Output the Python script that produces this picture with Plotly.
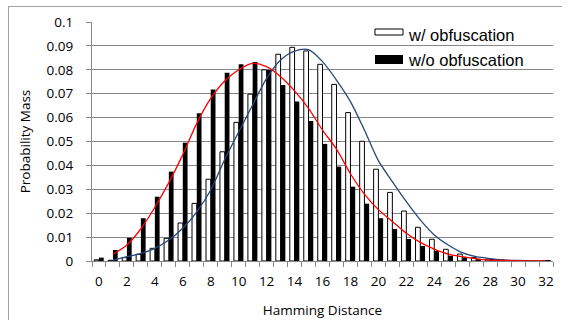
import plotly.graph_objects as go

# ---------------- data ----------------
hamming = list(range(33))
with_obf = [0.0005, 0.0003, 0.0014, 0.0028, 0.0053, 0.0095, 0.0159, 0.0241, 0.0342, 0.0457,
            0.0580, 0.0698, 0.0800, 0.0865, 0.0894, 0.0879, 0.0823, 0.0739, 0.0621, 0.0501,
            0.0384, 0.0287, 0.0209, 0.0141, 0.0091, 0.0049, 0.0029, 0.0015, 0.0008, 0.0004,
            0.0002, 0.0001, 0.0001]
without_obf = [0.0014, 0.0046, 0.0097, 0.0179, 0.0269, 0.0374, 0.0495, 0.0618, 0.0718, 0.0788,
               0.0823, 0.0833, 0.0799, 0.0736, 0.0667, 0.0586, 0.0490, 0.0395, 0.0311, 0.0240,
               0.0179, 0.0134, 0.0092, 0.0063, 0.0042, 0.0022, 0.0015, 0.0009, 0.0006, 0.0004,
               0.0004, 0.0004, 0.0004]
fit_x = list(range(1, 33))
fit_without = [0.0028, 0.0067, 0.0135, 0.0225, 0.0328, 0.0445, 0.0576, 0.0680, 0.0753, 0.0800,
               0.0827, 0.0813, 0.0771, 0.0712, 0.0639, 0.0548, 0.0468, 0.0365, 0.0280, 0.0215,
               0.0165, 0.0116, 0.0078, 0.0050, 0.0029, 0.0018, 0.0009, 0.0004, 0.0002, 0.0001,
               0.00005, 0.00002]
fit_with = [0.0004, 0.0018, 0.0032, 0.0053, 0.0088, 0.0137, 0.0206, 0.0297, 0.0425, 0.0540,
            0.0653, 0.0764, 0.0841, 0.0878, 0.0884, 0.0834, 0.0757, 0.0667, 0.0548, 0.0420,
            0.0332, 0.0248, 0.0172, 0.0109, 0.0067, 0.0035, 0.0018, 0.0010, 0.0005, 0.0002,
            0.0001, 0.00005]
y_ticks = [0, 0.01, 0.02, 0.03, 0.04, 0.05, 0.06, 0.07, 0.08, 0.09, 0.1]
y_tick_labels = ["0", "0.01", "0.02", "0.03", "0.04", "0.05", "0.06", "0.07", "0.08", "0.09", "0.1"]
x_ticks = list(range(0, 33, 2))
legend_labels = ["w/ obfuscation", "w/o obfuscation"]

# ---------------- layout geometry ----------------
W, H = 574, 320
ML, MR, MT, MB = 92, 21, 22, 59
PW, PH = W - ML - MR, H - MT - MB


def px(xp):
    return (xp - ML) / PW


def py(yp):
    return (H - MB - yp) / PH


GRID = "#878787"
BORDER = "#A0A0A0"
TICKFONT = dict(family="Open Sans", size=13.5, color="#000000")

fig = go.Figure()
fig.add_trace(go.Bar(x=hamming, y=with_obf, name=legend_labels[0],
                     marker=dict(color="#FFFFFF", line=dict(color="#000000", width=1)),
                     showlegend=False))
fig.add_trace(go.Bar(x=hamming, y=without_obf, name=legend_labels[1],
                     marker=dict(color="#000000", line=dict(color="#000000", width=0)),
                     showlegend=False))
fig.add_trace(go.Scatter(x=fit_x, y=fit_with, mode="lines",
                         line=dict(color="#26477A", width=1.3, shape="spline", smoothing=0.8),
                         showlegend=False, hoverinfo="skip"))
fig.add_trace(go.Scatter(x=fit_x, y=fit_without, mode="lines",
                         line=dict(color="#FF0000", width=1.3, shape="spline", smoothing=0.8),
                         showlegend=False, hoverinfo="skip"))

shapes = [
    # chart-area border: top and left edges
    dict(type="line", xref="paper", yref="paper", x0=px(8), x1=px(562), y0=py(6.5), y1=py(6.5),
         line=dict(color=BORDER, width=1)),
    dict(type="line", xref="paper", yref="paper", x0=px(8.5), x1=px(8.5), y0=py(6), y1=py(H + 10),
         line=dict(color=BORDER, width=1)),
    # legend keys
    dict(type="rect", xref="paper", yref="paper", x0=px(375), x1=px(403), y0=py(35), y1=py(29),
         fillcolor="#FFFFFF", line=dict(color="#000000", width=1)),
    dict(type="rect", xref="paper", yref="paper", x0=px(375), x1=px(403), y0=py(64), y1=py(55),
         fillcolor="#000000", line=dict(color="#000000", width=0)),
]
annotations = [
    dict(xref="paper", yref="paper", x=px(406), y=py(34.5), text=legend_labels[0], showarrow=False,
         xanchor="left", yanchor="middle", font=dict(family="Liberation Sans", size=16.5, color="#000")),
    dict(xref="paper", yref="paper", x=px(406), y=py(60.5), text=legend_labels[1], showarrow=False,
         xanchor="left", yanchor="middle", font=dict(family="Liberation Sans", size=16.5, color="#000")),
]

fig.update_layout(
    width=W, height=H,
    margin=dict(l=ML, r=MR, t=MT, b=MB, pad=0, autoexpand=False),
    paper_bgcolor="#FFFFFF", plot_bgcolor="#FFFFFF",
    barmode="group", bargap=0.32, bargroupgap=0,
    shapes=shapes, annotations=annotations,
    xaxis=dict(
        range=[-0.5, 32.5], tickmode="array", tickvals=x_ticks, ticktext=[str(v) for v in x_ticks],
        ticks="", showgrid=False, zeroline=False,
        showline=True, linecolor=GRID, linewidth=1,
        tickfont=TICKFONT, ticklabelstandoff=8,
        minor=dict(tickmode="array", tickvals=[k - 0.5 for k in range(34)], ticks="outside",
                   ticklen=5, tickcolor=GRID, tickwidth=1, showgrid=False),
        title=dict(text="Hamming Distance", font=TICKFONT, standoff=16),
    ),
    yaxis=dict(
        range=[0, 0.1], tickmode="array", tickvals=y_ticks, ticktext=y_tick_labels,
        ticks="outside", ticklen=5, tickcolor=GRID, tickwidth=1,
        showgrid=True, gridcolor=GRID, gridwidth=1, zeroline=False,
        showline=True, linecolor=GRID, linewidth=1,
        tickfont=TICKFONT, ticklabelstandoff=10,
        title=dict(text="Probability Mass", font=TICKFONT, standoff=12),
    ),
)

fig.write_html("out.html", config={"displayModeBar": False},
               post_script="document.body.style.margin='0px';")
